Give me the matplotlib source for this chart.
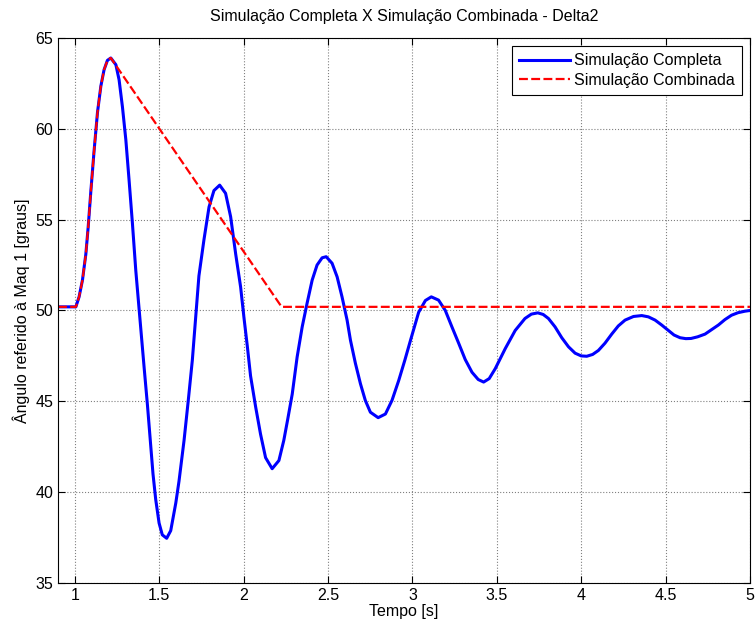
import matplotlib
matplotlib.use('Agg')
import matplotlib.pyplot as plt
import numpy as np

plt.rcParams['font.family'] = ['Liberation Sans', 'DejaVu Sans']

# simulacao completa
t_full = [0.9, 1.006, 1.025, 1.045, 1.065, 1.079, 1.095, 1.114, 1.134, 1.154, 1.173,
          1.193, 1.213, 1.243, 1.262, 1.282, 1.302, 1.321, 1.341, 1.361, 1.385,
          1.41, 1.43, 1.444, 1.463, 1.479, 1.499, 1.518, 1.544, 1.568, 1.598,
          1.617, 1.647, 1.672, 1.696, 1.716, 1.735, 1.765, 1.795, 1.824, 1.858,
          1.893, 1.923, 1.953, 1.982, 2.002, 2.021, 2.041, 2.071, 2.1, 2.13,
          2.169, 2.209, 2.238, 2.261, 2.288, 2.317, 2.347, 2.376, 2.406, 2.435,
          2.465, 2.489, 2.524, 2.554, 2.583, 2.613, 2.633, 2.662, 2.692, 2.721,
          2.751, 2.797, 2.84, 2.879, 2.919, 2.955, 2.99, 3.037, 3.077, 3.112,
          3.155, 3.195, 3.234, 3.274, 3.313, 3.353, 3.39, 3.422, 3.455, 3.491,
          3.55, 3.609, 3.667, 3.705, 3.743, 3.775, 3.806, 3.845, 3.885, 3.925,
          3.964, 4.0, 4.033, 4.068, 4.102, 4.141, 4.181, 4.22, 4.26, 4.31, 4.359,
          4.398, 4.438, 4.477, 4.517, 4.55, 4.586, 4.62, 4.651, 4.69, 4.734,
          4.773, 4.813, 4.852, 4.891, 4.93, 4.97, 5.0]
y_full = [50.2, 50.2, 50.75, 51.67, 53.1, 54.6, 56.6, 58.8, 60.9, 62.35, 63.25,
          63.77, 63.9, 63.53, 62.7, 61.2, 59.4, 57.2, 54.8, 52.2, 49.6,
          46.9, 44.8, 43.2, 41.0, 39.6, 38.3, 37.65, 37.46, 37.88, 39.4,
          40.6, 42.85, 45.05, 47.26, 49.6, 51.9, 53.9, 55.7, 56.6, 56.9,
          56.45, 55.16, 53.1, 51.3, 49.6, 48.1, 46.4, 44.7, 43.2, 41.9,
          41.29, 41.74, 42.85, 44.0, 45.4, 47.44, 49.1, 50.4, 51.67, 52.5,
          52.9, 52.96, 52.6, 51.85, 50.75, 49.47, 48.36, 47.1, 45.97, 45.05,
          44.4, 44.1, 44.3, 45.05, 46.15, 47.26, 48.4, 49.9, 50.55, 50.75,
          50.57, 50.0, 49.1, 48.2, 47.3, 46.6, 46.2, 46.06, 46.25, 46.8,
          47.9, 48.9, 49.56, 49.8, 49.87, 49.78, 49.56, 49.1, 48.5, 48.0,
          47.65, 47.5, 47.48, 47.58, 47.8, 48.2, 48.7, 49.15, 49.47, 49.67, 49.72,
          49.65, 49.47, 49.2, 48.9, 48.65, 48.5, 48.45, 48.46, 48.55, 48.7,
          48.95, 49.2, 49.5, 49.74, 49.88, 49.96, 50.0]

# simulacao combinada
t_comb = [0.9, 1.006, 1.025, 1.045, 1.065, 1.079, 1.095, 1.114, 1.134, 1.154, 1.173,
          1.193, 1.213, 2.225, 5.0]
y_comb = [50.2, 50.2, 50.75, 51.67, 53.1, 54.6, 56.6, 58.8, 60.9, 62.35, 63.25,
          63.77, 63.9, 50.2, 50.2]

fig = plt.figure(figsize=(7.56, 6.28), dpi=100)
ax = fig.add_axes([0.0767, 0.0717, 0.9153, 0.8678])

ax.plot(t_full, y_full, color='#0000ff', lw=2.2, label='Simulação Completa')
ax.plot(t_comb, y_comb, color='#ff0000', lw=1.6, ls='--', dashes=(4, 1.5),
        label='Simulação Combinada')

ax.set_xlim(0.9, 5)
ax.set_ylim(35, 65)
ax.set_xticks(np.arange(1, 5.01, 0.5))
ax.set_xticklabels(['1', '1.5', '2', '2.5', '3', '3.5', '4', '4.5', '5'])
ax.set_yticks(np.arange(35, 66, 5))
ax.tick_params(direction='in', top=True, right=True, labelsize=11.5, length=5)
ax.grid(True, ls=':', color='#808080', lw=0.8)

ax.set_title('Simulação Completa X Simulação Combinada - Delta2', fontsize=11.5, pad=12)
ax.set_xlabel('Tempo [s]', fontsize=11.5, labelpad=1)
ax.set_ylabel('Ângulo referido à Maq 1 [graus]', fontsize=11.5)

leg = ax.legend(loc='upper right', fontsize=11.5, fancybox=False, framealpha=1,
                edgecolor='black', borderaxespad=0.5, handlelength=3.2,
                handletextpad=0.25, borderpad=0.45, labelspacing=0.3)
leg.get_frame().set_linewidth(0.8)

plt.savefig('out.png', dpi=100)
plt.close()
